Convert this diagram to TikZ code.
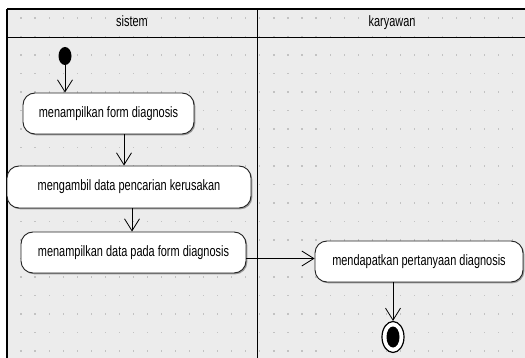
\documentclass[tikz,border=0pt]{standalone}
\usepackage{fontspec}
\setmainfont{Liberation Sans}
\usetikzlibrary{arrows.meta,shadows,shapes.geometric}
\definecolor{lanebg}{HTML}{ECECEC}
\definecolor{griddot}{HTML}{C2C2C2}
\definecolor{boxline}{HTML}{222222}
\newcommand{\lbl}[1]{\scalebox{0.73}[1]{#1}}
\tikzset{
  action/.style={draw=boxline, line width=0.9pt, fill=white, rounded corners=12pt,
    inner sep=0pt, font=\fontsize{15}{17}\selectfont, text height=10.5pt, text depth=3pt,
    drop shadow={shadow xshift=1.3pt, shadow yshift=-1.3pt, fill=black, opacity=0.35}},
  flow/.style={draw=black, line width=0.8pt,
    -{Straight Barb[length=12pt,width=15pt,line width=0.8pt]}},
  laneline/.style={draw=black, line width=1.1pt},
  lanetitle/.style={font=\fontsize{15}{17}\selectfont, inner sep=0pt, anchor=base},
}
\begin{document}
\begin{tikzpicture}[x=1pt, y=-1pt]
  \useasboundingbox (0,0) rectangle (525,358);
  % swimlane background
  \fill[white] (0,0) rectangle (525,358);
  \fill[lanebg] (7,9) rectangle (525,358);
  % dotted grid
  \foreach \i in {0,...,35} {
    \foreach \j in {0,...,18} {
      \fill[griddot] ({21+14.05*\i-0.6},{18+18.5*\j-0.6}) rectangle ++(1.2,1.2);
    }
  }
  % lane frame
  \draw[laneline, line width=1.6pt] (7,9) -- (525,9);
  \draw[laneline] (7,9) -- (7,358);
  \draw[laneline] (7,37.5) -- (525,37.5);
  \draw[laneline, line width=1pt] (257,9) -- (257,358);
  \node[lanetitle] (lsistem) at (132,26.5) {\lbl{sistem}};
  \node[lanetitle] (lkaryawan) at (392,26.5) {\lbl{karyawan}};

  % start node
  \node[ellipse, fill=black, minimum width=13pt, minimum height=18pt, inner sep=0pt] (start) at (65,56) {};

  % actions
  \node[action, minimum width=171pt, minimum height=41pt] (b1) at (108.5,113.5) {\lbl{menampilkan form diagnosis}};
  \node[action, minimum width=244pt, minimum height=42pt] (b2) at (129,187) {\lbl{mengambil data pencarian kerusakan}};
  \node[action, minimum width=225pt, minimum height=41pt] (b3) at (133.5,252.5) {\lbl{menampilkan data pada form diagnosis}};
  \node[action, minimum width=208pt, minimum height=41pt] (b4) at (419,261.5) {\lbl{mendapatkan pertanyaan diagnosis}};

  % final node
  \node[ellipse, draw=black, line width=1.2pt, fill=white, minimum width=22pt, minimum height=31pt, inner sep=0pt] (final) at (393,337) {};
  \fill[black] (final.center) ellipse [x radius=6.5pt, y radius=10.5pt];

  % control flows
  \draw[flow] (start.south) -- (start.south |- b1.north);
  \draw[flow] ([xshift=15.5pt]b1.south) -- ([xshift=15.5pt]b1.south |- b2.north);
  \draw[flow] ([xshift=3pt]b2.south) -- ([xshift=3pt]b2.south |- b3.north);
  \draw[flow] ([yshift=-6pt]b3.east) -- ([yshift=-6pt]b3.east -| b4.west);
  \draw[flow] ([xshift=-26pt]b4.south) -- ([xshift=-26pt]b4.south |- final.north);
\end{tikzpicture}
\end{document}
